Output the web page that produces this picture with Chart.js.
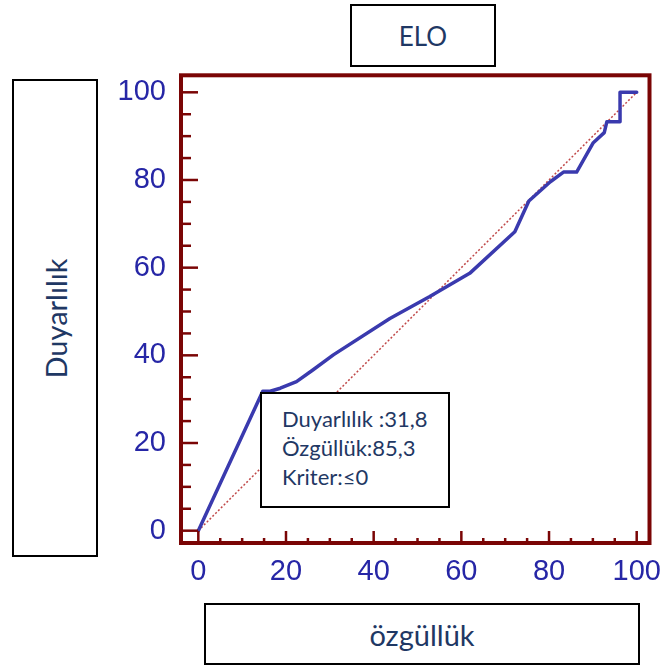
<!DOCTYPE html>
<html>
<head>
<meta charset="utf-8">
<script src="https://cdn.jsdelivr.net/npm/chart.js@4.4.1/dist/chart.umd.min.js"></script>
<style>
  html, body { margin: 0; padding: 0; background: #fff; }
  #wrap { position: relative; width: 666px; height: 666px; overflow: hidden; }
  canvas { position: absolute; left: 0; top: 0; }
  .box { position: absolute; box-sizing: border-box; border: 2px solid #000; background: #fff;
         color: #1f3864; font-family: Lato, "Open Sans", sans-serif; }
  .center { display: flex; align-items: center; justify-content: center; }
</style>
</head>
<body>
<div id="wrap">
  <canvas id="c" width="666" height="666"></canvas>
  <div class="box center" style="left:350px;top:4px;width:146px;height:63px;font-size:26px;">ELO</div>
  <div class="box center" style="left:12px;top:79px;width:86px;height:478px;">
    <div style="transform:rotate(-90deg);font-size:29px;white-space:nowrap;">Duyarlılık</div>
  </div>
  <div class="box center" style="left:204px;top:603px;width:436px;height:62px;font-size:29px;">özgüllük</div>
  <div class="box" style="left:260px;top:392px;width:190px;height:116px;font-size:22px;line-height:29px;padding:10px 0 0 20px;">
    Duyarlılık :31,8<br>Özgüllük:85,3<br>Kriter:≤0
  </div>
</div>
<script>
// 100 - specificity (x) and sensitivity (y)
const specificity = [0, 14.7, 16.4, 18.7, 22.4, 26.2, 30.8, 43.7, 52.8, 61.9, 72.2, 75.4, 80.3, 83.3, 86.3, 90.1, 92.6, 93.2, 96.2, 96.2, 100];
const sensitivity = [0, 31.8, 31.8, 32.5, 34.0, 36.7, 40.1, 48.4, 53.4, 58.7, 68.2, 75.2, 79.6, 81.8, 81.8, 88.5, 90.8, 93.3, 93.3, 100, 100];
const refX = [0, 100];
const refY = [0, 100];
const xTickValues = [0, 20, 40, 60, 80, 100];
const yTickValues = [0, 20, 40, 60, 80, 100];
const minorStep = 5;

const FRAME = '#7a0505';
const LABEL = '#2626a6';

const framePlugin = {
  id: 'frameTicks',
  afterDatasetsDraw(chart) {
    const ctx = chart.ctx;
    const a = chart.chartArea;
    const xs = chart.scales.x, ys = chart.scales.y;
    ctx.save();
    ctx.strokeStyle = FRAME;
    ctx.lineCap = 'butt';
    ctx.lineWidth = 2.5;
    for (let v = 0; v <= 100; v += minorStep) {
      const major = xTickValues.includes(v);
      const px = xs.getPixelForValue(v);
      ctx.beginPath();
      ctx.moveTo(px, a.bottom);
      ctx.lineTo(px, a.bottom - (major ? 12 : 5));
      ctx.stroke();
      const majorY = yTickValues.includes(v);
      const py = ys.getPixelForValue(v);
      ctx.beginPath();
      ctx.moveTo(a.left, py);
      ctx.lineTo(a.left + (majorY ? 17 : 10), py);
      ctx.stroke();
    }
    ctx.lineWidth = 4;
    ctx.strokeRect(a.left, a.top, a.right - a.left, a.bottom - a.top);
    ctx.restore();
  }
};

new Chart(document.getElementById('c'), {
  type: 'scatter',
  data: {
    datasets: [
      {
        data: refX.map((x, i) => ({ x: x, y: refY[i] })),
        showLine: true,
        borderColor: '#c04848',
        borderWidth: 1.5,
        borderDash: [2, 2],
        pointRadius: 0,
        order: 2
      },
      {
        data: specificity.map((x, i) => ({ x: x, y: sensitivity[i] })),
        showLine: true,
        borderColor: '#3a3aae',
        borderWidth: 3.5,
        borderJoinStyle: 'round',
        borderCapStyle: 'round',
        pointRadius: 0,
        tension: 0,
        order: 1
      }
    ]
  },
  options: {
    responsive: false,
    animation: false,
    events: [],
    layout: { padding: { left: 0, right: 16.5, top: 75.3, bottom: 0 } },
    plugins: { legend: { display: false }, tooltip: { enabled: false }, title: { display: false } },
    scales: {
      x: {
        type: 'linear',
        min: -3.95, max: 102.92,
        grid: { display: false, drawTicks: false },
        border: { display: false },
        ticks: { color: LABEL, padding: 12, font: { family: '"Liberation Sans", Arial, sans-serif', size: 29 }, autoSkip: false, maxRotation: 0 },
        afterBuildTicks: s => { s.ticks = xTickValues.map(v => ({ value: v })); },
        afterFit: s => { s.height = 123; s.paddingLeft = 0; s.paddingRight = 0; }
      },
      y: {
        type: 'linear',
        min: -2.81, max: 103.88,
        grid: { display: false, drawTicks: false },
        border: { display: false },
        ticks: { color: LABEL, padding: 15, font: { family: '"Liberation Sans", Arial, sans-serif', size: 29 }, autoSkip: false },
        afterBuildTicks: s => { s.ticks = yTickValues.map(v => ({ value: v })); },
        afterFit: s => { s.width = 181; s.paddingTop = 0; s.paddingBottom = 0; }
      }
    }
  },
  plugins: [framePlugin]
});
</script>
</body>
</html>
